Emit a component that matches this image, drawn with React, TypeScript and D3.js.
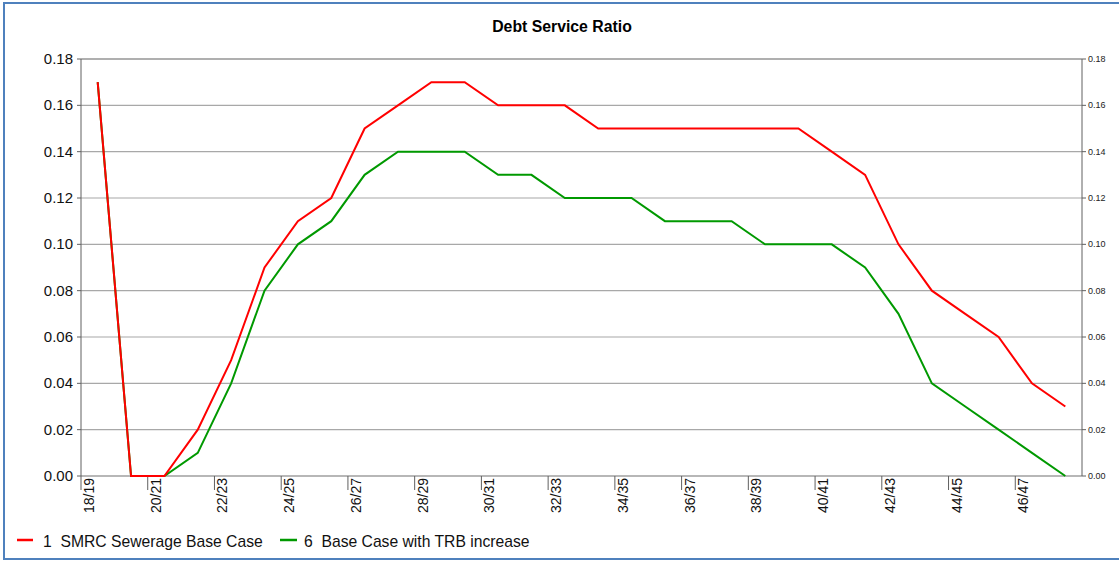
import React from "react";
import * as d3 from "d3";

const categories = [
  "18/19","19/20","20/21","21/22","22/23","23/24","24/25","25/26","26/27","27/28",
  "28/29","29/30","30/31","31/32","32/33","33/34","34/35","35/36","36/37","37/38",
  "38/39","39/40","40/41","41/42","42/43","43/44","44/45","45/46","46/47","47/48",
];
const smrcBase = [
  0.17,0.0,0.0,0.02,0.05,0.09,0.11,0.12,0.15,0.16,
  0.17,0.17,0.16,0.16,0.16,0.15,0.15,0.15,0.15,0.15,
  0.15,0.15,0.14,0.13,0.10,0.08,0.07,0.06,0.04,0.03,
];
const trbIncrease = [
  0.17,0.0,0.0,0.01,0.04,0.08,0.10,0.11,0.13,0.14,
  0.14,0.14,0.13,0.13,0.12,0.12,0.12,0.11,0.11,0.11,
  0.10,0.10,0.10,0.09,0.07,0.04,0.03,0.02,0.01,0.0,
];
const yTicks = [0, 0.02, 0.04, 0.06, 0.08, 0.1, 0.12, 0.14, 0.16, 0.18];
const seriesNames = ["1  SMRC Sewerage Base Case", "6  Base Case with TRB increase"];

export default function App() {
  const W = 1119, H = 561;
  const left = 81, right = 1082, top = 59, bottom = 476;
  const x = d3.scaleBand<string>().domain(categories).range([left, right]).padding(0);
  const y = d3.scaleLinear().domain([0, 0.18]).range([bottom, top]);
  const cx = (c: string) => (x(c) as number) + x.bandwidth() / 2;
  const line = d3.line<number>().x((_, i) => cx(categories[i])).y((d) => y(d));
  const font = "'Liberation Sans', Arial, sans-serif";
  return (
    <svg width={W} height={H} style={{ position: "absolute", left: 0, top: 0, fontFamily: font }}>
      <rect x={0} y={0} width={W} height={H} fill="#fff" />
      <rect x={4} y={3} width={W + 10} height={556} fill="none" stroke="#4f81bd" strokeWidth={2} />
      <text x={562} y={32} textAnchor="middle" fontSize={15.8} fontWeight="bold" fill="#000">Debt Service Ratio</text>
      {yTicks.map((t) => (
        <g key={t}>
          <line x1={left} x2={right} y1={y(t)} y2={y(t)}
            stroke={t === 0.18 ? "#606060" : t === 0 ? "#707070" : "#a8a8a8"} strokeWidth={1.2} />
          <line x1={left - 4} x2={left} y1={y(t)} y2={y(t)} stroke="#606060" />
          <line x1={right} x2={right + 4} y1={y(t)} y2={y(t)} stroke="#606060" />
          <text x={left - 8} y={y(t) + 5} textAnchor="end" fontSize={15} fill="#111">{t.toFixed(2)}</text>
          <text x={right + 6} y={y(t) + 3} fontSize={9} fill="#222">{t.toFixed(2)}</text>
        </g>
      ))}
      <line x1={left} x2={left} y1={top} y2={bottom} stroke="#606060" />
      <line x1={right} x2={right} y1={top} y2={bottom} stroke="#606060" />
      {categories.map((c, i) =>
        i % 2 === 0 ? (
          <g key={c}>
            <line x1={x(c) as number} x2={x(c) as number} y1={bottom} y2={bottom + 14} stroke="#606060" />
            <text transform={`translate(${(x(c) as number) + 13},${bottom + 2}) rotate(-90)`}
              textAnchor="end" fontSize={14} fill="#111">{c}</text>
          </g>
        ) : null
      )}
      <path d={line(trbIncrease) || ""} fill="none" stroke="#009900" strokeWidth={2} />
      <path d={line(smrcBase) || ""} fill="none" stroke="#ff0000" strokeWidth={2} />
      <line x1={17} x2={33} y1={540} y2={540} stroke="#ff0000" strokeWidth={2.5} />
      <text x={43} y={547} fontSize={15.7} fill="#111" style={{ whiteSpace: "pre" }}>{seriesNames[0]}</text>
      <line x1={280} x2={297} y1={540} y2={540} stroke="#009900" strokeWidth={2.5} />
      <text x={304} y={547} fontSize={15.7} fill="#111" style={{ whiteSpace: "pre" }}>{seriesNames[1]}</text>
    </svg>
  );
}
